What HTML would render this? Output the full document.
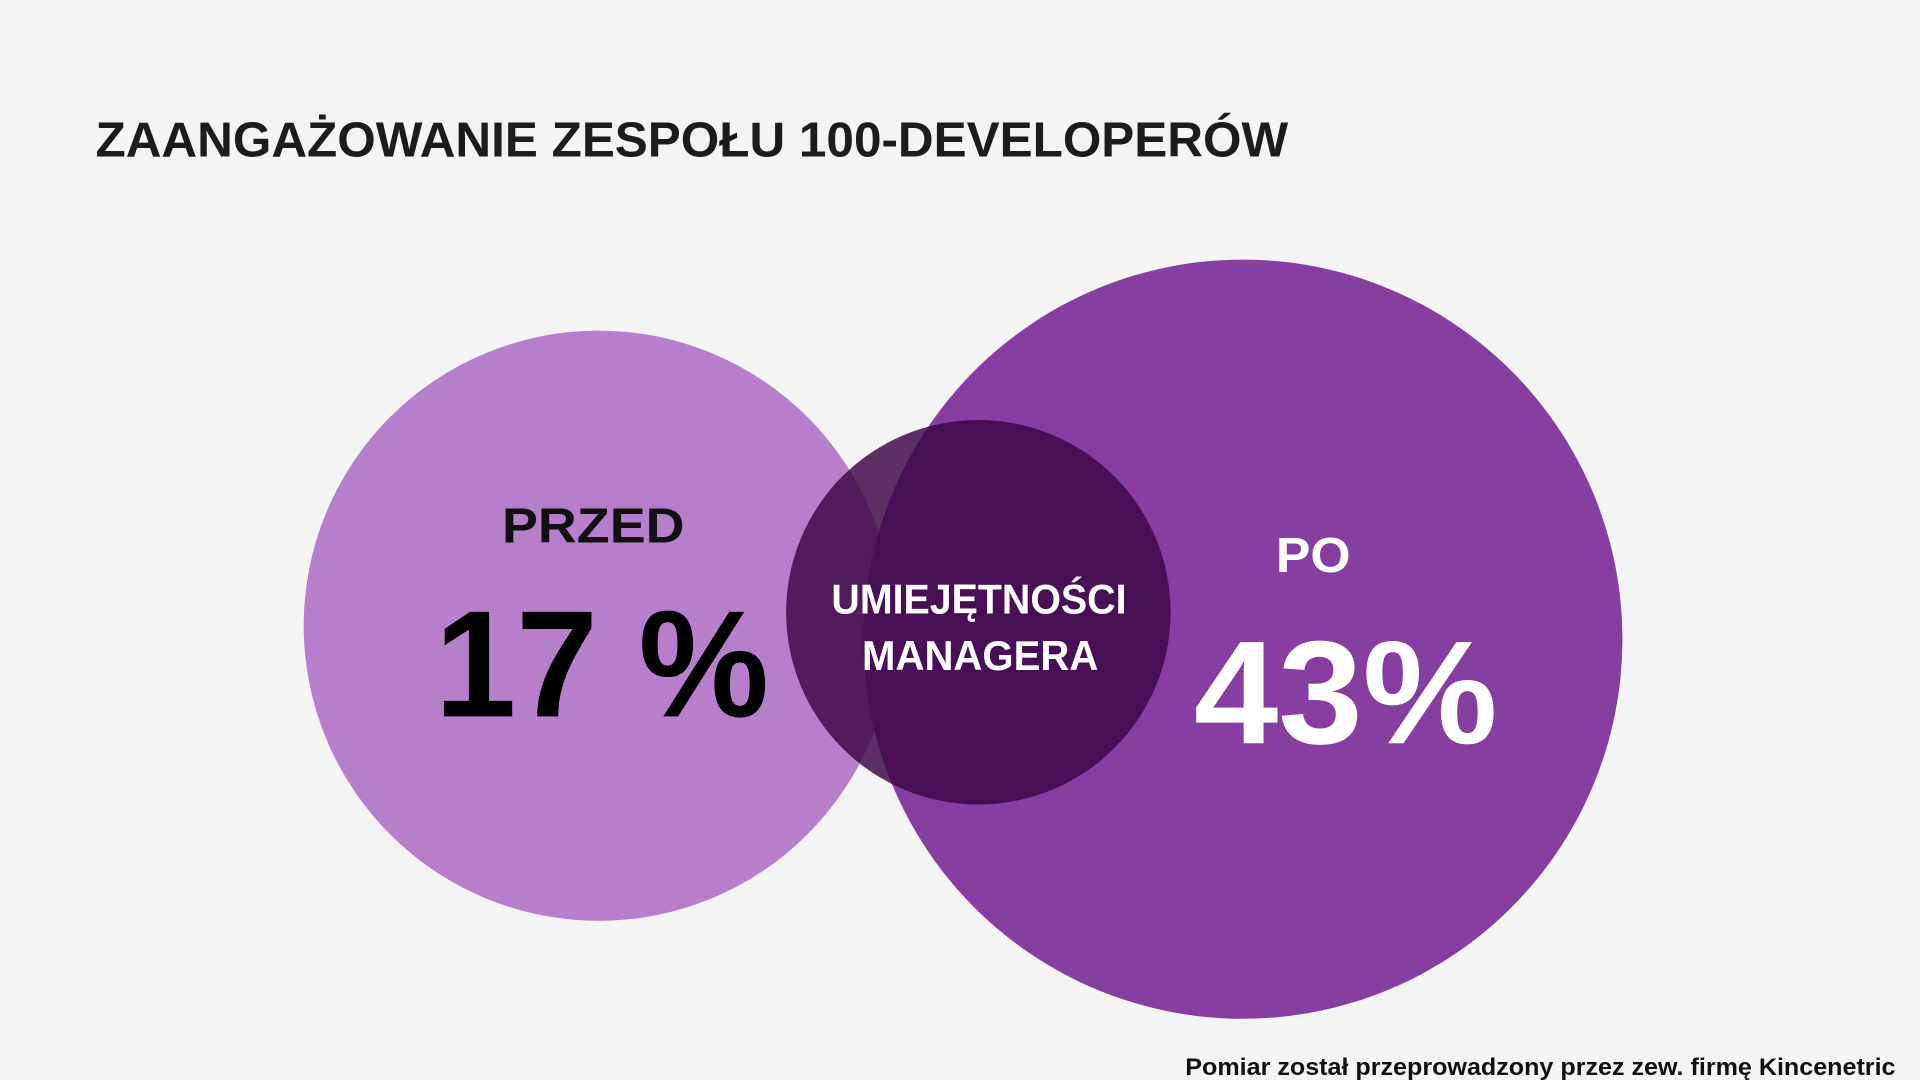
<!DOCTYPE html>
<html><head><meta charset="utf-8"><style>
html,body{margin:0;padding:0;background:#f4f4f4;}
svg{display:block;}
text{font-family:"Liberation Sans",sans-serif;font-weight:bold;}
</style></head><body>
<svg width="1920" height="1080" viewBox="0 0 1568 882" xmlns="http://www.w3.org/2000/svg">
<rect width="1568" height="882" fill="#f4f4f4"/>
<circle cx="489" cy="511" r="241" fill="#b77ecb"/>
<circle cx="1015" cy="522" r="310" fill="#863fa0"/>
<circle cx="799" cy="500" r="157" fill="#3a0545" fill-opacity="0.82"/>
<text x="78" y="128" font-size="40" fill="#1c1c1c" textLength="974" lengthAdjust="spacingAndGlyphs">ZAANGAŻOWANIE ZESPOŁU 100-DEVELOPERÓW</text>
<text x="410" y="443" font-size="40" fill="#111" textLength="149" lengthAdjust="spacingAndGlyphs">PRZED</text>
<text x="355" y="585" font-size="124" fill="#000" textLength="273" lengthAdjust="spacingAndGlyphs">17 %</text>
<text x="1042" y="467" font-size="40" fill="#fff" textLength="61" lengthAdjust="spacingAndGlyphs">PO</text>
<text x="975" y="607" font-size="120" fill="#fff" textLength="248" lengthAdjust="spacingAndGlyphs">43%</text>
<text x="679" y="501" font-size="34" fill="#fff" textLength="241" lengthAdjust="spacingAndGlyphs">UMIEJĘTNOŚCI</text>
<text x="704" y="547" font-size="34" fill="#fff" textLength="193" lengthAdjust="spacingAndGlyphs">MANAGERA</text>
<text x="968" y="878" font-size="20" fill="#111" textLength="580" lengthAdjust="spacingAndGlyphs">Pomiar został przeprowadzony przez zew. firmę Kincenetric</text>
</svg>
</body></html>
